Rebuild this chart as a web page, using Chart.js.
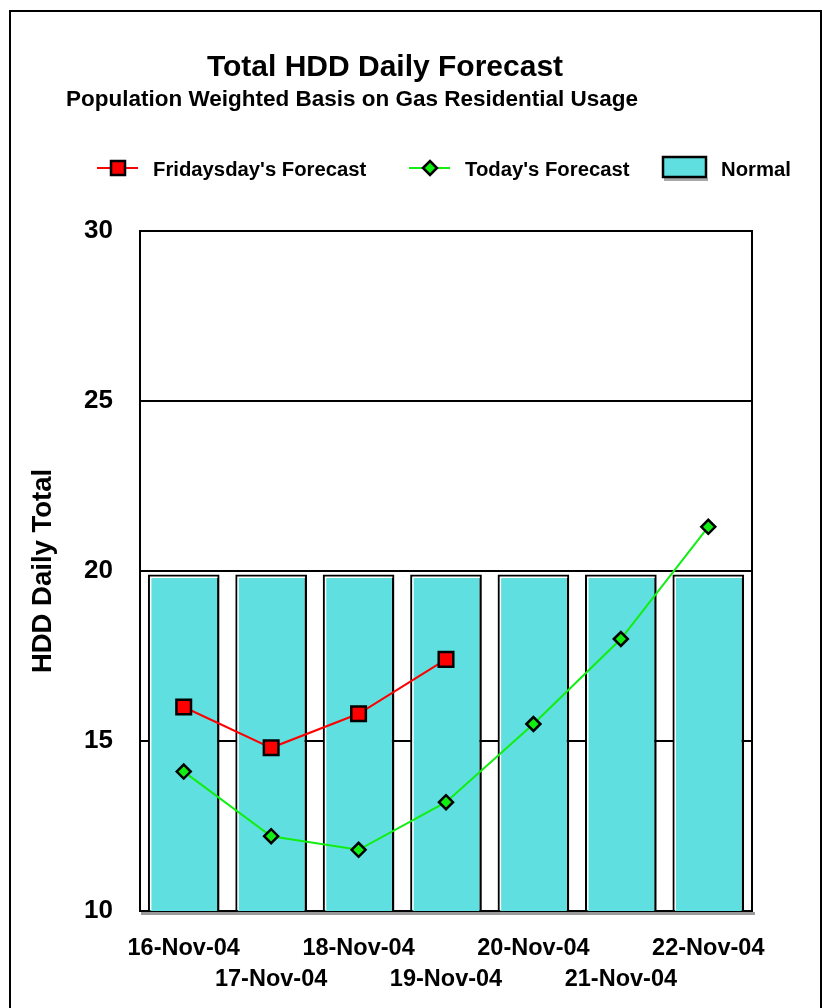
<!DOCTYPE html>
<html>
<head>
<meta charset="utf-8">
<script src="https://cdn.jsdelivr.net/npm/chart.js@4.4.1/dist/chart.umd.min.js"></script>
<style>
  body { margin: 0; background: #fff; }
  #frame { position: absolute; left: 9px; top: 10px; width: 809px; height: 1010px;
           border: 2px solid #000; border-bottom: none; }
  #wrap { position: absolute; left: 0; top: 0; width: 822px; height: 1008px; }
</style>
</head>
<body>
<div id="frame"></div>
<div id="wrap"><canvas id="myChart"></canvas></div>
<script>
//Chart data
const days = ["16-Nov-04", "17-Nov-04", "18-Nov-04", "19-Nov-04", "20-Nov-04", "21-Nov-04", "22-Nov-04"];
const fridayForecast = [16.0, 14.8, 15.8, 17.4, null, null, null];
const todayForecast = [14.1, 12.2, 11.8, 13.2, 15.5, 18.0, 21.3];
const normal = [19.9, 19.9, 19.9, 19.9, 19.9, 19.9, 19.9];
const yTicks = [10, 15, 20, 25, 30];

const FONT = "'Liberation Sans', Arial, sans-serif";
const CYAN = "#5fdfdf";

//Titles, legend and plot frame
const decor = {
  id: "decor",
  beforeDatasetsDraw(chart) {
    const { ctx, chartArea: a } = chart;
    ctx.save();
    ctx.fillStyle = "#9a9a9a";
    ctx.fillRect(a.left + 1, a.bottom + 1, a.right - a.left + 2, 3);
    ctx.strokeStyle = "#000";
    ctx.lineWidth = 2;
    ctx.strokeRect(a.left, a.top, a.right - a.left, a.bottom - a.top);
    ctx.restore();
  },
  afterDatasetDraw(chart, args) {
    // white highlight inside each bar (left and top edge)
    if (args.meta.type !== "bar") return;
    const ctx = chart.ctx;
    const bottom = chart.chartArea.bottom - 1;
    ctx.save();
    ctx.strokeStyle = "#ffffff";
    ctx.lineWidth = 1.5;
    args.meta.data.forEach(function (bar) {
      const l = bar.x - bar.width / 2 + 2.8;
      const t = bar.y + 2.8;
      ctx.beginPath();
      ctx.moveTo(l, Math.min(bar.base, bottom));
      ctx.lineTo(l, t);
      ctx.lineTo(bar.x + bar.width / 2 - 2, t);
      ctx.stroke();
    });
    ctx.restore();
  },
  afterDraw(chart) {
    const ctx = chart.ctx;
    const ds = chart.data.datasets;
    ctx.save();
    ctx.fillStyle = "#000";
    ctx.textAlign = "center";
    ctx.textBaseline = "middle";
    ctx.font = "bold 30px " + FONT;
    ctx.fillText("Total HDD Daily Forecast", 385, 68);
    ctx.font = "bold 22.5px " + FONT;
    ctx.fillText("Population Weighted Basis on Gas Residential Usage", 352, 100);

    ctx.font = "bold 20.3px " + FONT;
    ctx.textAlign = "left";
    const y = 168;
    // Fridaysday's
    ctx.strokeStyle = ds[0].borderColor;
    ctx.lineWidth = 2;
    ctx.beginPath(); ctx.moveTo(97, y); ctx.lineTo(138, y); ctx.stroke();
    ctx.fillStyle = ds[0].pointBackgroundColor;
    ctx.fillRect(111, y - 7, 14, 14);
    ctx.strokeStyle = "#000";
    ctx.lineWidth = 2.5;
    ctx.strokeRect(111, y - 7, 14, 14);
    ctx.fillStyle = "#000";
    ctx.fillText(ds[0].label, 153, y + 2);
    // Today's
    ctx.strokeStyle = ds[1].borderColor;
    ctx.lineWidth = 2;
    ctx.beginPath(); ctx.moveTo(409, y); ctx.lineTo(450, y); ctx.stroke();
    ctx.fillStyle = ds[1].pointBackgroundColor;
    ctx.beginPath();
    ctx.moveTo(430 - 7, y); ctx.lineTo(430, y - 7); ctx.lineTo(430 + 7, y); ctx.lineTo(430, y + 7);
    ctx.closePath(); ctx.fill();
    ctx.strokeStyle = "#000"; ctx.lineWidth = 2.5; ctx.stroke();
    ctx.fillStyle = "#000";
    ctx.fillText(ds[1].label, 465, y + 2);
    // Normal
    ctx.fillStyle = "#a8a8a8";
    ctx.fillRect(664, 178, 44, 3);
    ctx.fillStyle = ds[2].backgroundColor;
    ctx.fillRect(663, 157, 43, 20);
    ctx.strokeStyle = "#000";
    ctx.lineWidth = 2.5;
    ctx.strokeRect(663, 157, 43, 20);
    ctx.fillStyle = "#000";
    ctx.fillText(ds[2].label, 721, y + 2);
    ctx.restore();
  }
};

const config = {
  data: {
    labels: days,
    datasets: [
      {
        type: "line",
        label: "Fridaysday's Forecast",
        data: fridayForecast,
        borderColor: "#ff0000",
        borderWidth: 2,
        pointStyle: "rect",
        pointRadius: 10.3,
        pointBackgroundColor: "#ff0000",
        pointBorderColor: "#000",
        pointBorderWidth: 2.5,
        spanGaps: false,
        order: 0,
      },
      {
        type: "line",
        label: "Today's Forecast",
        data: todayForecast,
        borderColor: "#11ee11",
        borderWidth: 2,
        pointStyle: "rectRot",
        pointRadius: 7,
        pointBackgroundColor: "#11ee11",
        pointBorderColor: "#000",
        pointBorderWidth: 2.5,
        order: 1,
      },
      {
        type: "bar",
        label: "Normal",
        data: normal,
        backgroundColor: CYAN,
        borderColor: "#000",
        borderWidth: 2.5,
        borderSkipped: false,
        barPercentage: 0.82,
        categoryPercentage: 1.0,
        order: 2,
      },
    ],
  },
  options: {
    responsive: false,
    animation: false,
    layout: { padding: { top: 231, right: 70, left: 0, bottom: 0 } },
    plugins: { legend: { display: false }, title: { display: false }, tooltip: { enabled: false } },
    scales: {
      x: {
        offset: true,
        grid: { display: false, drawTicks: false },
        border: { display: true, color: "#000", width: 2 },
        ticks: {
          autoSkip: false,
          maxRotation: 0,
          minRotation: 0,
          padding: 22,
          color: "#000",
          font: { family: FONT, size: 23.5, weight: "bold", lineHeight: 1.32 },
          callback: function (v, i) {
            return i % 2 === 0 ? [days[i], ""] : ["", days[i]];
          },
        },
        afterFit: function (s) { s.height = 97; },
      },
      y: {
        min: yTicks[0],
        max: yTicks[yTicks.length - 1],
        afterBuildTicks: function (s) { s.ticks = yTicks.map(v => ({ value: v })); },
        grid: { color: "#000", lineWidth: 2, drawTicks: false },
        border: { display: true, color: "#000", width: 2 },
        ticks: {
          padding: 27,
          color: "#000",
          font: { family: FONT, size: 26, weight: "bold" },
        },
        title: {
          display: true,
          text: "HDD Daily Total",
          color: "#000",
          font: { family: FONT, size: 27.5, weight: "bold" },
          padding: { top: 27, bottom: 0 },
        },
        afterFit: function (s) { s.width = 140; },
      },
    },
  },
  plugins: [decor],
};

const canvas = document.getElementById("myChart");
canvas.width = 822;
canvas.height = 1008;
const myChart = new Chart(canvas.getContext("2d"), config);
</script>
</body>
</html>
